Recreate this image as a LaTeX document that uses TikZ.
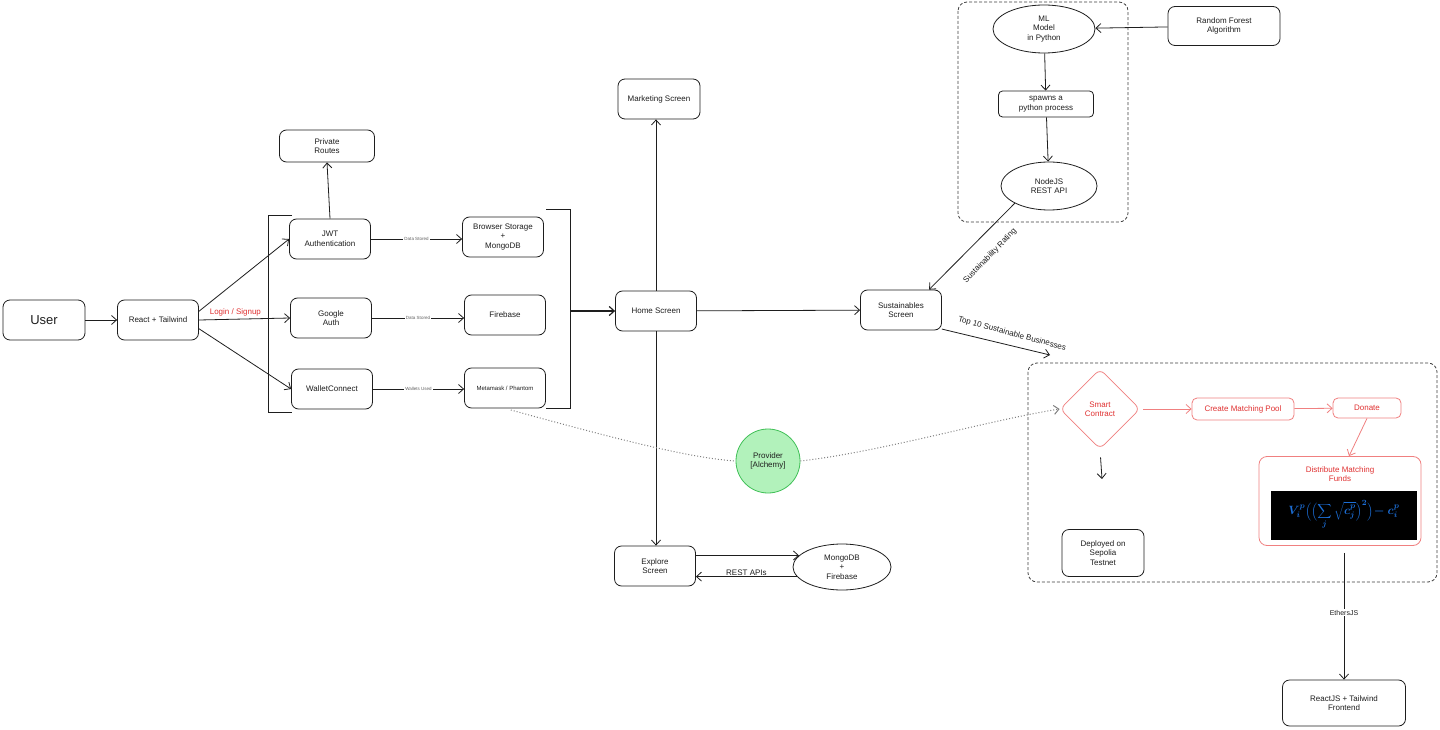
\documentclass[tikz,border=0pt]{standalone}
\usepackage{fontspec}
\setmainfont{Liberation Sans}
\usepackage{tikz}
\usetikzlibrary{positioning,shapes.geometric,arrows.meta,calc}
\definecolor{ink}{RGB}{30,30,30}
\definecolor{redt}{RGB}{224,49,49}
\definecolor{redl}{RGB}{240,128,128}
\definecolor{mint}{RGB}{178,242,187}
\definecolor{leaf}{RGB}{64,192,87}
\definecolor{eqblue}{RGB}{28,110,214}
\newcommand{\fsz}[2]{\fontsize{#1}{#2}\selectfont}

\begin{document}
\begin{tikzpicture}[x=1pt,y=-1pt,color=ink,line width=0.8pt,font=\fsz{8}{9.5},
 >={Straight Barb[length=5pt,width=9pt]},
 b/.style={draw,rounded corners=7,align=center,inner sep=2pt,minimum width=81,minimum height=40},
 e/.style={draw,ellipse,align=center,inner sep=1pt},
 rb/.style={draw=redl,text=redt,rounded corners=5,align=center,inner sep=2pt},
 ra/.style={->,draw=redl},
 tag/.style={fill=white,inner sep=1pt,text=ink!70,font=\fsz{4.5}{5}},
 dsh/.style={draw=ink!85,dash pattern=on 3pt off 2pt,rounded corners=9},
 dotl/.style={draw=gray,dotted,line width=1pt}]
 \fill[white] (0,0) rectangle (1440,730);
 \useasboundingbox (0,0) rectangle (1440,730);

 % login side
 \node[b,minimum width=82,font=\fsz{13}{15}](user) at (44,320){User};
 \node[b](rt) at (158,320){React + Tailwind};
 \node[b,minimum width=95,minimum height=32](priv) at (327,146){Private\\Routes};
 \node[b](jwt) at (330,239){JWT\\Authentication};
 \node[b](gauth) at (331,318){Google\\Auth};
 \node[b](wc) at (332,389){WalletConnect};
 \node[b](bstore) at (503,237){Browser Storage\\+\\MongoDB};
 \node[b](fb) at (505,315){Firebase};
 \node[b,font=\fsz{6}{7}](meta) at (505,388){Metamask / Phantom};
 \draw (292,215) -- (268,215) -- (268,412) -- (292,412);
 \draw (546,209) -- (570,209) -- (570,408) -- (546,408);
 \coordinate (brk) at (570,311);

 % screens
 \node[b](home) at (656,311){Home Screen};
 \node[b,minimum width=82](mkt) at (659,99){Marketing Screen};
 \node[b](sus) at (901,310){Sustainables\\Screen};
 \node[b](expl) at (655,566){Explore\\Screen};
 \node[e,minimum width=98,minimum height=46](mdb) at (842,567){MongoDB\\+\\Firebase};
 \node[circle,draw=leaf,fill=mint,minimum size=64,align=center,inner sep=1pt](prov) at (768,461){Provider\\{[Alchemy]}};

 % ml service
 \draw[dsh] (958,2) rectangle (1128,222);
 \node[e,minimum width=102,minimum height=48](ml) at (1044,29){ML\\Model\\in Python};
 \node[b,minimum width=112,minimum height=39](rf) at (1224,26){Random Forest\\Algorithm};
 \node[b,minimum width=95,minimum height=26,rounded corners=4](spawn) at (1046,104){spawns a\\python process};
 \node[e,minimum width=96,minimum height=48](njs) at (1049,186){NodeJS\\REST API};

 % contract side
 \draw[dsh] (1028,363) rectangle (1437,582);
 \node[diamond,draw=redl,text=redt,rounded corners=6,minimum width=80,minimum height=80,align=center,inner sep=0pt](sc) at (1100,409){Smart\\Contract};
 \node[rb,minimum width=102,minimum height=22](pool) at (1243,409){Create Matching Pool};
 \node[rb,minimum width=68,minimum height=20](don) at (1367,408){Donate};
 \node[rb,minimum width=162,minimum height=89,rounded corners=8](dist) at (1340,501){};
 \node[text=redt,align=center](distlbl) at (1340,474){Distribute Matching\\Funds};
 \node[fill=black,text=eqblue,minimum width=146,minimum height=49,inner sep=1pt,font=\fsz{12}{14}\boldmath](eq) at (1344,515)
   {$\displaystyle V_i^p\Bigl(\Bigl(\sum_j\sqrt{c_j^p}\Bigr)^{2}\Bigr)\!-c_i^p$};
 \node[b,minimum width=82,minimum height=47](dep) at (1103,553){Deployed on\\Sepolia\\Testnet};
 \node[b,minimum width=123,minimum height=46](front) at (1344,703){ReactJS + Tailwind\\Frontend};
 \coordinate (scend) at (1102,479);
 \coordinate (topten) at (1050,355);
 \node[rotate=46,inner sep=0pt](srlbl) at (990,256){Sustainability Rating};
 \node[rotate=-15,inner sep=0pt](ttlbl) at (1012,334){Top 10 Sustainable Businesses};

 \draw[->](user)--(rt);
 \draw[->](rt.12)--(jwt.west);
 \draw[->](rt.east)--node[pos=0.4,above=-1pt,text=redt]{Login / Signup}(gauth.west);
 \draw[->](rt.-12)--(wc.west);
 \draw[->](jwt.north)--(priv.south);
 \draw[->](jwt.east)--node[tag]{Data Stored}(bstore.west |- jwt.east);
 \draw[->](gauth.east)--node[tag]{Data Stored}(fb.west |- gauth.east);
 \draw[->](wc.east)--node[tag]{Wallets Used}(meta.west |- wc.east);
 \draw[->,line width=1.2pt](brk)--(home);
 \draw[->](home.north)--(home.north |- mkt.south);
 \draw[->](home)--(sus);
 \draw[->](home.south)--(home.south |- expl.north);
 \draw[->](expl.east |- mdb.165)--(mdb.165);
 \draw[->](mdb.-168)--node[midway,above,inner sep=1pt]{REST APIs}(expl.east |- mdb.-168);
 \draw[->](rf)--(ml);
 \draw[->](ml)--(spawn);
 \draw[->](spawn)--(njs);
 \draw[->](njs.south west)--(sus.36);
 \draw[->](sus.-25)--(topten);
 \draw[dotl,shorten <=6pt](meta.south) .. controls (620,440) and (690,458) .. (prov.west);
 \draw[dotl,->](prov.east) .. controls (880,452) and (990,420) .. (sc.west);
 \draw[ra,shorten <=3pt](sc.east)--(pool.west);
 \draw[ra](pool)--(don);
 \draw[ra](don.south)--($(dist.north)+(9,0)$);
 \draw[->,shorten <=8pt](sc.south)--(scend);
 \draw[->,shorten <=7pt](front.north |- dist.south)--node[tag,text=ink,font=\fsz{7}{8}]{EthersJS}(front.north);
\end{tikzpicture}
\end{document}
